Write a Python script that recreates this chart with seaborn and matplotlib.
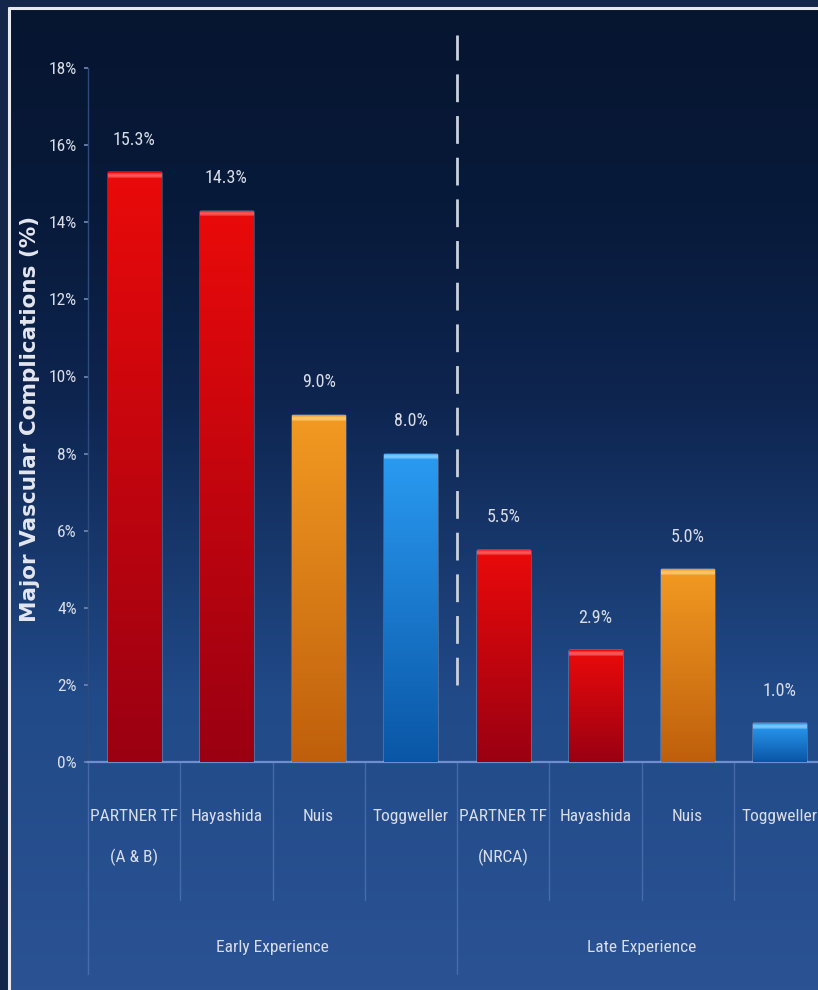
import numpy as np
import pandas as pd
import matplotlib
matplotlib.use("Agg")
import matplotlib.pyplot as plt
import matplotlib.font_manager as fm
from matplotlib.colors import LinearSegmentedColormap, to_rgb
import seaborn as sns

# ---------------- data ----------------
studies = ["PARTNER TF\n(A & B)", "Hayashida", "Nuis", "Toggweller",
           "PARTNER TF\n(NRCA)", "Hayashida", "Nuis", "Toggweller"]
groups = ["Early Experience"] * 4 + ["Late Experience"] * 4
values = [15.3, 14.3, 9.0, 8.0, 5.5, 2.9, 5.0, 1.0]
kinds = ["red", "red", "orange", "blue", "red", "red", "orange", "blue"]
yticks = [0, 2, 4, 6, 8, 10, 12, 14, 16, 18]
ylabel = "Major Vascular Complications (%)"
group_names = ["Early Experience", "Late Experience"]

# ---------------- style ----------------
sns.set_theme(style="dark")
names = {f.name for f in fm.fontManager.ttflist}
narrow = next((n for n in ["Liberation Sans Narrow", "Roboto Condensed",
                           "Open Sans Condensed", "Liberation Sans"] if n in names),
              "DejaVu Sans")
plt.rcParams["font.family"] = [narrow, "DejaVu Sans"]

# (top, bottom, highlight)
kind_colors = {"red": ("#ea0a0a", "#9a0012", "#ff6a6a"),
               "orange": ("#f29a22", "#bf5f0c", "#ffd07a"),
               "blue": ("#2a9bf2", "#0a56a6", "#8ad4ff")}
palette = {k: v[0] for k, v in kind_colors.items()}
text_col = "#d9dde8"

W, H = 818, 990
fig = plt.figure(figsize=(W / 100, H / 100), dpi=100, facecolor="#15264b")

# background gradient panel
bg = fig.add_axes([10 / W, 0, 1 - 10 / W, 1 - 9 / H])
bg.set_axis_off()
bg_cmap = LinearSegmentedColormap.from_list(
    "bg", [(0, "#2b5394"), (0.3, "#214a88"), (0.6, "#0e2550"), (0.8, "#081a3a"), (1, "#061530")])
bg.imshow(np.linspace(0, 1, 256).reshape(-1, 1), aspect="auto", cmap=bg_cmap,
          extent=[0, 1, 0, 1], origin="lower")
bg.set_xlim(0, 1)
bg.set_ylim(0, 1)
# white frame line (top and left)
fig.add_artist(plt.Line2D([9 / W, 1], [1 - 8 / H, 1 - 8 / H], color="#e8eaf0", lw=2.2))
fig.add_artist(plt.Line2D([9 / W, 9 / W], [0, 1 - 8 / H], color="#e8eaf0", lw=2.2))

# main axes
px_per_unit = 38.55
ymax = 19.0
ax = fig.add_axes([88 / W, (H - 762) / H, 738 / W, ymax * px_per_unit / H])
ax.patch.set_alpha(0)

df = pd.DataFrame({"key": [f"{g}|{s}" for g, s in zip(groups, studies)],
                   "value": values, "kind": kinds})
sns.barplot(data=df, x="key", y="value", hue="kind", palette=palette,
            width=0.575, legend=False, ax=ax, saturation=1, zorder=3)

ax.set_xlim(-0.5, 7.5)
ax.set_ylim(0, ymax)

# gradient fill for bars (match patch to category by its position)
for patch in ax.patches:
    x0, w = patch.get_x(), patch.get_width()
    h = patch.get_height()
    idx = int(round(x0 + w / 2))
    top, bot, hi = [np.array(to_rgb(c)) for c in kind_colors[kinds[idx]]]
    n = max(int(round(h * px_per_unit)), 2)
    t = np.linspace(0, 1, n)[:, None]
    img = bot + (top - bot) * t
    k = min(7, n)
    ramp = np.linspace(0, 1, k)
    for r in range(k):
        a = np.sin(np.pi * ramp[r]) if k > 1 else 0
        img[n - k + r] = img[n - k + r] * (1 - a * 0.8) + hi * a * 0.8
    img = img[:, None, :]
    im = ax.imshow(img, aspect="auto", extent=[x0, x0 + w, 0, h], origin="lower",
                   zorder=4, interpolation="bilinear")
    im.set_clip_path(patch)
    ax.annotate(f"{h:.1f}%", (x0 + w / 2, h), xytext=(0, 17), textcoords="offset points",
                ha="center", va="bottom", color=text_col, fontsize=13)

ax.set_xlim(-0.5, 7.5)
ax.set_ylim(0, ymax)

# axes styling
ax.set_yticks(yticks)
ax.set_yticklabels([f"{t}%" for t in yticks], color=text_col, fontsize=12.5)
ax.tick_params(axis="y", length=3, color="#6f86b0", pad=5, left=True)
ax.set_xticks([])
ax.set_xlabel("")
ax.set_ylabel("")
ax.grid(False)
for s in ["top", "right"]:
    ax.spines[s].set_visible(False)
ax.spines["left"].set_color("#2f4a7c")
ax.spines["left"].set_bounds(0, 18)
ax.spines["left"].set_linewidth(1)
ax.spines["bottom"].set_color("#6d8fcf")
ax.spines["bottom"].set_linewidth(1.6)

# x labels
trans = ax.get_xaxis_transform()
for i, s in enumerate(studies):
    ax.text(i, -0.064, s, transform=trans, ha="center", va="top", color=text_col,
            fontsize=12.5, linespacing=2.85, clip_on=False)
# group labels
for j, g in enumerate(group_names):
    ax.text(1.5 + 4 * j, -0.253, g, transform=trans, ha="center", va="center",
            color=text_col, fontsize=12.5, clip_on=False)
# separators
ax_bottom_short = -0.188
ax_bottom_long = -0.29
for xb in [-0.5, 0.5, 1.5, 2.5, 3.5, 4.5, 5.5, 6.5, 7.5]:
    lo = ax_bottom_long if xb in (-0.5, 3.5, 7.5) else ax_bottom_short
    ax.plot([xb, xb], [0, lo], transform=trans, color="#5d7fba", lw=1, alpha=0.6,
            clip_on=False, zorder=1)

# dashed divider between early/late
ax.plot([3.5, 3.5], [2.0, 18.85], color="#c9d1dd", lw=2, ls=(0, (10, 5)),
        zorder=5, clip_on=False)

fig.text(30 / W, (H - 419) / H, ylabel, rotation=90, ha="center", va="center",
         color="#e4e7ef", fontsize=15.5, fontweight="bold", family="DejaVu Sans")

fig.savefig("out.png", dpi=100, facecolor=fig.get_facecolor())
